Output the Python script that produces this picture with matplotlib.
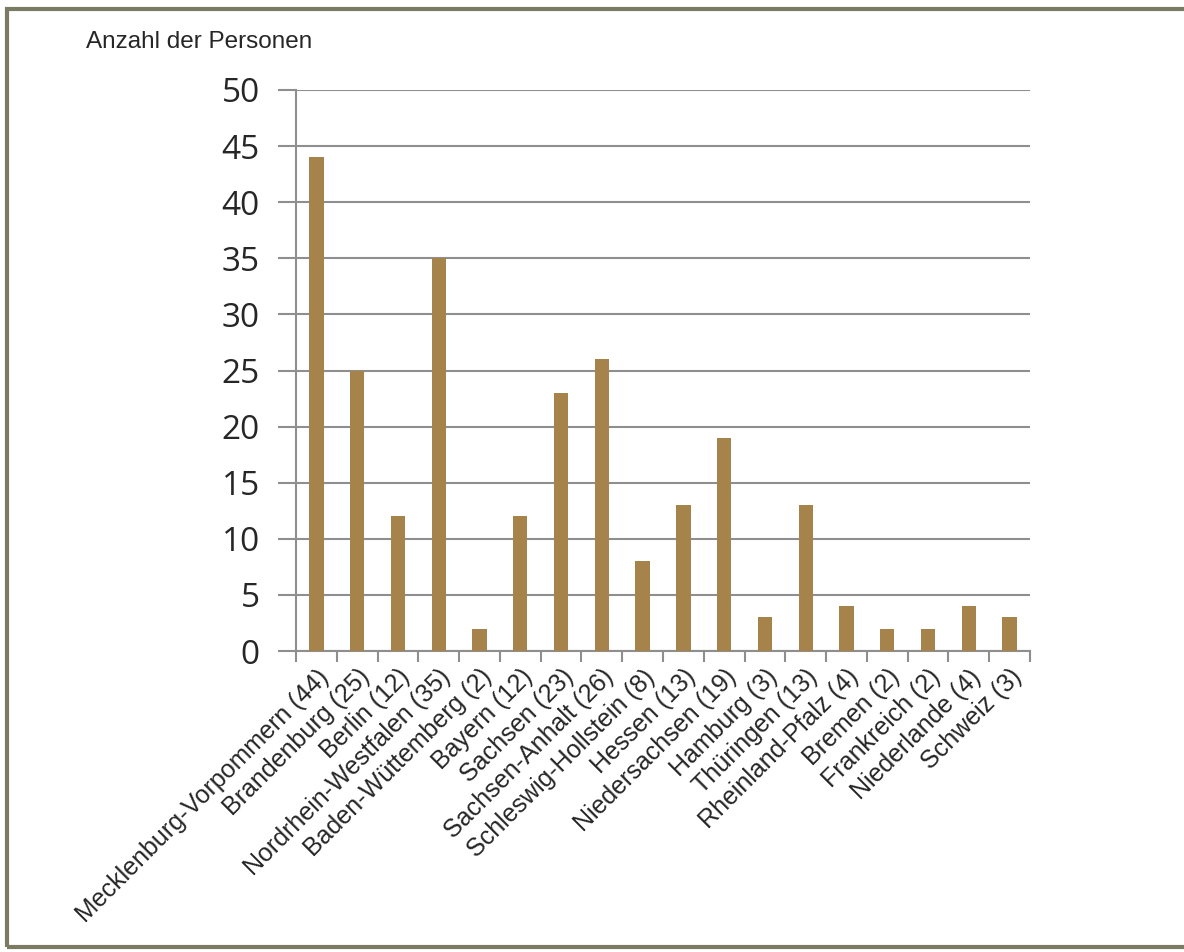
import numpy as np
from matplotlib import pyplot as plt
from matplotlib.patches import Rectangle

regions = ['Mecklenburg-Vorpommern', 'Brandenburg', 'Berlin', 'Nordrhein-Westfalen',
           'Baden-Wüttemberg', 'Bayern', 'Sachsen', 'Sachsen-Anhalt',
           'Schleswig-Hollstein', 'Hessen', 'Niedersachsen', 'Hamburg', 'Thüringen',
           'Rheinland-Pfalz', 'Bremen', 'Frankreich', 'Niederlande', 'Schweiz']
persons = [44, 25, 12, 35, 2, 12, 23, 26, 8, 13, 19, 3, 13, 4, 2, 2, 4, 3]
yticks = list(range(0, 55, 5))

bar_color = '#A6834B'
grid_color = '#8E8E8E'
text_color = '#262626'

fig = plt.figure(figsize=(11.84, 9.52), dpi=100)
fig.patch.set_facecolor('white')

# outer frame
fig.patches.append(Rectangle((0.006, 0.005), 1.2, 0.986, transform=fig.transFigure,
                             fill=False, edgecolor='#7B7B63', linewidth=3))

ax = fig.add_axes([296/1184, 1 - 651/952, 734/1184, 561/952])
x = np.arange(len(persons))
ax.bar(x, persons, width=0.35, color=bar_color, zorder=3)

ax.set_xlim(-0.5, len(persons) - 0.5)
ax.set_ylim(0, 50)
ax.set_yticks(yticks)
ax.set_yticklabels([str(v) for v in yticks], fontsize=24, family='Open Sans', color=text_color)
ax.yaxis.grid(True, color=grid_color, linewidth=1.5, zorder=0)
ax.tick_params(axis='y', length=13, width=1.5, color=grid_color, pad=13)

labels = [f'{r} ({p})' for r, p in zip(regions, persons)]
ax.set_xticks(x)
ax.set_xticklabels(labels, rotation=45, ha='right', va='top', rotation_mode='anchor',
                   fontsize=18, family='Liberation Sans', color=text_color)
ax.tick_params(axis='x', which='major', length=0, pad=10)
ax.set_xticks(np.arange(-0.5, len(persons), 1.0), minor=True)
ax.tick_params(axis='x', which='minor', length=8, width=1.5, color=grid_color)

for side in ['top', 'right']:
    ax.spines[side].set_visible(False)
ax.spines['left'].set_color(grid_color)
ax.spines['left'].set_linewidth(1.5)
ax.spines['bottom'].set_color(grid_color)
ax.spines['bottom'].set_linewidth(1.5)

fig.text(86/1184, 1 - 42/952, 'Anzahl der Personen', fontsize=17.5,
         family='Liberation Sans', color=text_color, va='center', ha='left')

fig.savefig('out.png', dpi=100)
